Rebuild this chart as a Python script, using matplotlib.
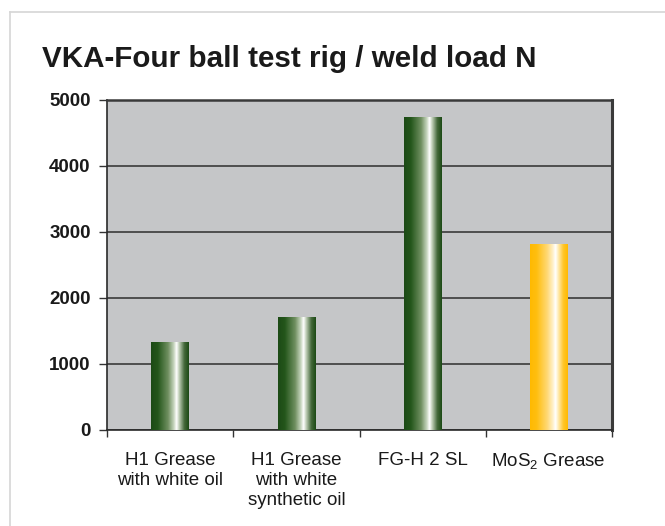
import matplotlib
matplotlib.use('Agg')
import matplotlib.pyplot as plt
import numpy as np
from matplotlib.colors import LinearSegmentedColormap
from matplotlib.lines import Line2D

plt.rcParams['font.family'] = ['Liberation Sans', 'DejaVu Sans']
plt.rcParams['mathtext.fontset'] = 'custom'
plt.rcParams['mathtext.rm'] = 'Liberation Sans'

# data
categories = ['H1 Grease\nwith white oil',
              'H1 Grease\nwith white\nsynthetic oil',
              'FG-H 2 SL',
              r'MoS$_\mathrm{2}$ Grease']
weld_load = [1320, 1710, 4740, 2810]
bar_kind = ['green', 'green', 'green', 'gold']
y_ticks = [0, 1000, 2000, 3000, 4000, 5000]

# gradient colour maps for the "cylinder" bars
stops = [0.0, 0.18, 0.45, 0.6, 0.675, 0.75, 0.88, 1.0]
green_cols = ['#1c4a15', '#24561b', '#6f8f60', '#c5d4bc', '#ffffff', '#b9c9b0', '#44683a', '#1c4a15']
gold_cols = ['#ffb900', '#ffbf10', '#ffd873', '#fff0c8', '#ffffff', '#ffeab0', '#ffc62a', '#ffb900']
cmaps = {
    'green': LinearSegmentedColormap.from_list('g', list(zip(stops, green_cols))),
    'gold': LinearSegmentedColormap.from_list('y', list(zip(stops, gold_cols))),
}

fig = plt.figure(figsize=(6.65, 5.26), dpi=100)
fig.patch.set_facecolor('white')

# light frame around the whole chart
fig.add_artist(Line2D([10/665, 10/665], [0, 1 - 12/526], color='#d6d6d6', lw=1.2, transform=fig.transFigure))
fig.add_artist(Line2D([10/665, 1], [1 - 12/526, 1 - 12/526], color='#d6d6d6', lw=1.2, transform=fig.transFigure))

ax = fig.add_axes([107.3/665, 1 - 429.6/526, (611.7 - 107.3)/665, (429.6 - 99.7)/526])
ax.set_facecolor('#c5c6c8')

x = np.arange(len(categories))
bars = ax.bar(x, weld_load, width=0.30, color='none', zorder=3)
grad = np.linspace(0, 1, 256).reshape(1, -1)
for b, kind in zip(bars, bar_kind):
    ax.imshow(grad, cmap=cmaps[kind], aspect='auto', zorder=3,
              extent=(b.get_x(), b.get_x() + b.get_width(), 0, b.get_height()))

ax.set_xlim(-0.5, len(categories) - 0.5)
ax.set_ylim(0, 5000)
ax.set_yticks(y_ticks)
ax.set_yticklabels([str(v) for v in y_ticks], fontsize=13.5, fontweight='bold', color='#1a1a1a')
ax.yaxis.grid(True, color='#3a3a3a', lw=1.2, zorder=1)
ax.set_axisbelow(True)
ax.tick_params(axis='y', direction='out', length=6, width=1, color='#333333', pad=6)

# category boundaries carry the tick marks, labels sit at bar centres
ax.set_xticks(np.arange(-0.5, len(categories) + 0.5, 1.0))
ax.set_xticklabels([])
ax.set_xticks(x, minor=True)
ax.set_xticklabels(categories, minor=True, fontsize=13.5, color='#1a1a1a', linespacing=1.22)
ax.tick_params(axis='x', which='major', direction='out', length=5, width=1, color='#333333')
ax.tick_params(axis='x', which='minor', length=0, pad=16)

for side in ['left', 'bottom']:
    ax.spines[side].set_color('#2a2a2a')
    ax.spines[side].set_linewidth(1.2)
ax.spines['top'].set_color('#3a3a3a')
ax.spines['top'].set_linewidth(1.8)
ax.spines['right'].set_color('#3a3a3a')
ax.spines['right'].set_linewidth(2.2)

fig.text(42/665, 1 - 67/526, 'VKA-Four ball test rig / weld load N', fontsize=21.3,
         fontweight='bold', color='#1a1a1a', va='baseline', ha='left')

fig.savefig('out.png', dpi=100)
